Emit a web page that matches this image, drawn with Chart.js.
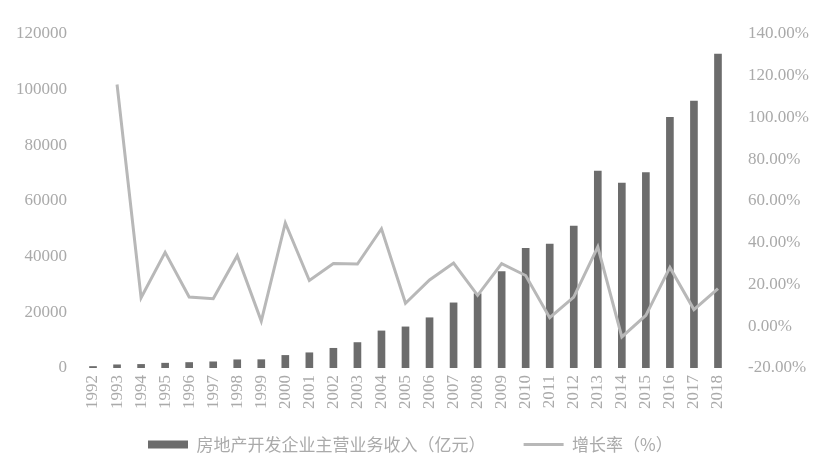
<!DOCTYPE html>
<html>
<head>
<meta charset="utf-8">
<script src="https://cdn.jsdelivr.net/npm/chart.js@4/dist/chart.umd.min.js"></script>
<style>
  html, body { margin: 0; padding: 0; background: #fff; }
  canvas { display: block; }
</style>
</head>
<body>
<canvas id="c" width="836" height="463"></canvas>
<script>
// years on the category axis
var years = ['1992', '1993', '1994', '1995', '1996', '1997', '1998', '1999', '2000',
  '2001', '2002', '2003', '2004', '2005', '2006', '2007', '2008', '2009', '2010',
  '2011', '2012', '2013', '2014', '2015', '2016', '2017', '2018'];

// main business revenue, 100 million yuan
var revenue = [540, 1150, 1290, 1730, 1970, 2220, 2950, 2990, 4520,
  5470, 7080, 9140, 13320, 14770, 18050, 23400, 26700, 34610, 43000,
  44490, 51030, 70710, 66460, 70170, 90090, 95900, 112800];

// growth rate, %
var growth = [null, 115.8, 13.7, 35.4, 14.0, 13.2, 33.8, 2.5, 49.5,
  21.9, 30.0, 29.8, 46.7, 11.0, 22.2, 30.3, 14.8, 30.0, 24.3,
  4.1, 14.0, 38.0, -5.1, 5.2, 28.2, 8.0, 18.0];

var seriesNames = ['房地产开发企业主营业务收入（亿元）', '增长率（%）'];

var FONT = '"Liberation Serif", "DejaVu Serif", "Noto Sans CJK SC", serif';
var LEGEND_FONT = '"Noto Sans CJK SC", "Liberation Serif", serif';
var TEXT = '#aaaaaa';

new Chart(document.getElementById('c'), {
  type: 'bar',
  data: {
    labels: years,
    datasets: [{
      type: 'bar',
      label: seriesNames[0],
      data: revenue,
      yAxisID: 'y',
      backgroundColor: '#6c6c6c',
      barThickness: 7,
      order: 1
    }, {
      type: 'line',
      label: seriesNames[1],
      data: growth,
      yAxisID: 'y1',
      borderColor: '#b8b8b8',
      backgroundColor: '#b8b8b8',
      borderWidth: 3,
      pointRadius: 0,
      tension: 0,
      order: 0
    }]
  },
  options: {
    responsive: false,
    animation: false,
    layout: { padding: { top: 34, bottom: 0 } },
    scales: {
      x: {
        grid: { display: false, drawTicks: false },
        border: { display: false },
        ticks: {
          color: TEXT, font: { family: FONT, size: 17 },
          minRotation: 90, maxRotation: 90, padding: 7, autoSkip: false
        },
        afterFit: function (s) { s.height = 46; }
      },
      y: {
        position: 'left',
        min: 0, max: 120000,
        grid: { display: false, drawTicks: false },
        border: { display: false },
        ticks: {
          stepSize: 20000, color: TEXT, font: { family: FONT, size: 17 }, padding: 14,
          callback: function (v) { return String(v); }
        },
        afterFit: function (s) { s.width = 81; }
      },
      y1: {
        position: 'right',
        min: -20, max: 140,
        grid: { display: false, drawTicks: false },
        border: { display: false },
        ticks: {
          stepSize: 20, color: TEXT, font: { family: FONT, size: 17 }, padding: 18,
          callback: function (v) { return v.toFixed(2) + '%'; }
        },
        afterFit: function (s) { s.width = 106; }
      }
    },
    plugins: {
      tooltip: { enabled: false },
      legend: {
        position: 'bottom',
        labels: {
          color: TEXT,
          font: { family: LEGEND_FONT, size: 17 },
          usePointStyle: true,
          pointStyleWidth: 40,
          boxHeight: 8,
          padding: 22,
          sort: function (a, b) { return a.datasetIndex - b.datasetIndex; },
          generateLabels: function (chart) {
            var items = Chart.defaults.plugins.legend.labels.generateLabels(chart);
            items.forEach(function (it) {
              if (it.datasetIndex === 0) {
                it.pointStyle = 'rect'; it.lineWidth = 0;
                it.text = it.text + '\u3000  ';   // wider gap between the two entries
              } else {
                it.pointStyle = 'line'; it.lineWidth = 3;
                it.text = it.text + '    ';
              }
            });
            return items;
          }
        }
      }
    }
  }
});
</script>
</body>
</html>
